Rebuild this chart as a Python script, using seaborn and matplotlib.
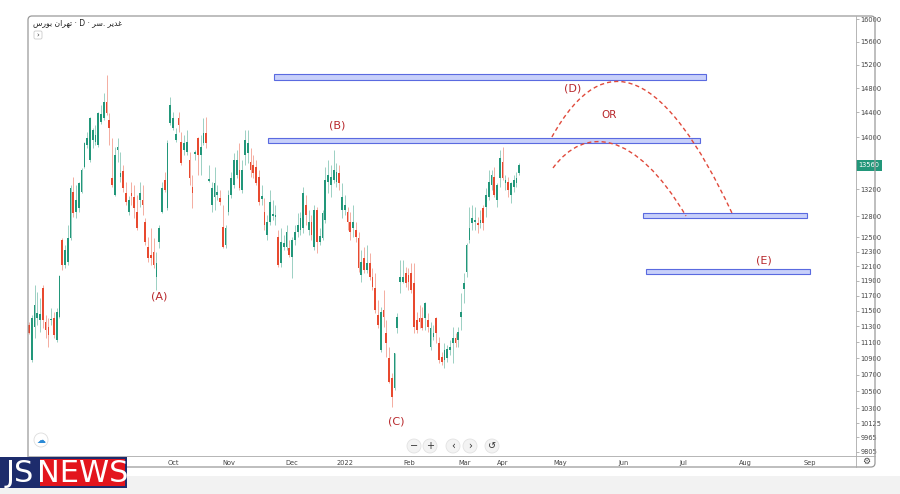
import numpy as np
import matplotlib
matplotlib.use("Agg")
import matplotlib.pyplot as plt
import matplotlib.transforms as mtransforms
import seaborn as sns
from matplotlib.patches import Rectangle, FancyBboxPatch, Circle, PathPatch
from matplotlib.path import Path
from matplotlib.ticker import FixedLocator, FixedFormatter, NullLocator

# daily candles, Tehran exchange
opens = [11320, 10880, 11290, 11410, 11380, 11800, 11360, 11290, 11380, 11410,
         11130, 11420, 12460, 12120, 12160, 12490, 13160, 12870, 12920, 13160,
         13540, 13880, 13650, 13960, 13930, 13880, 14250, 14310, 14570, 14280,
         13370, 13110, 13800, 13380, 13480, 13140, 12870, 13140, 13080, 12870,
         13040, 13040, 12720, 12360, 12250, 12290, 11950, 12430, 12870, 13340,
         12920, 14230, 14150, 13960, 14310, 13930, 13800, 13770, 13650, 13230,
         13740, 13990, 13720, 13910, 14070, 13320, 12970, 13080, 13110, 13070,
         12650, 12390, 12870, 13110, 13260, 13420, 13490, 13190, 13720, 13750,
         13610, 13570, 13540, 13380, 13050, 12870, 12530, 12720, 12800, 12790,
         12500, 12140, 12360, 12360, 12350, 12220, 12460, 12580, 12600, 12630,
         12970, 12600, 12720, 12360, 12890, 12430, 12490, 12750, 13310, 13260,
         13340, 13310, 13450, 12890, 12890, 12870, 12720, 12630, 12600, 12490,
         11980, 12210, 12050, 12140, 11950, 11800, 11450, 11000, 11510, 11220,
         10900, 10660, 10540, 11280, 11880, 11880, 12000, 11980, 12000, 11870,
         11380, 11410, 11410, 11410, 11380, 11040, 11170, 11410, 11090, 10920,
         10880, 10900, 11000, 11090, 11150, 11130, 11420, 11790, 12020, 12460,
         12700, 12720, 12700, 12700, 12920, 12940, 13080, 13260, 13380, 13040,
         13370, 13610, 13290, 13310, 13110, 13230, 13290, 13450]
closes = [11220, 11410, 11580, 11470, 11460, 11380, 11260, 11190, 11385, 11190,
          11490, 11960, 12120, 12320, 12490, 13220, 12850, 13040, 13290, 13490,
          13910, 13990, 14310, 14120, 14040, 14390, 14380, 14570, 14390, 14150,
          13260, 13720, 13850, 13450, 13220, 13010, 13040, 13100, 12920, 12630,
          13140, 12970, 12430, 12210, 12210, 12120, 12140, 12630, 13220, 13190,
          13910, 14520, 14310, 14050, 14200, 13600, 13910, 13930, 13370, 13140,
          13770, 13720, 13850, 14070, 13910, 13350, 13220, 13290, 13160, 13010,
          12360, 12630, 13110, 13370, 13650, 13650, 13220, 13490, 13960, 13910,
          13490, 13450, 13290, 13010, 13100, 12680, 12720, 13010, 12840, 12820,
          12120, 12430, 12420, 12580, 12250, 12460, 12580, 12680, 12780, 13140,
          12820, 12720, 12530, 12890, 12430, 12520, 12850, 13340, 13410, 13380,
          13490, 13460, 13290, 13080, 12970, 12720, 12580, 12720, 12500, 12070,
          12160, 12050, 12140, 11950, 11820, 11510, 11320, 11490, 11420, 11090,
          10610, 10430, 10970, 11420, 11950, 11950, 11870, 11880, 11780, 11290,
          11260, 11360, 11280, 11600, 11290, 11280, 11220, 11220, 10880, 10850,
          11000, 11020, 11040, 11150, 11090, 11230, 11490, 11870, 12390, 12630,
          12780, 12750, 12680, 12750, 12700, 13110, 13310, 13410, 13110, 13260,
          13680, 13370, 13340, 13190, 13290, 13340, 13370, 13560]
highs = [11360, 11450, 11840, 11750, 11670, 11840, 11450, 11410, 11540, 11490,
         11540, 11980, 12490, 12390, 12680, 13260, 13380, 13260, 13310, 13520,
         13930, 14080, 14330, 14150, 14200, 14410, 14520, 14720, 15020, 14390,
         13990, 13850, 13990, 13770, 13570, 13310, 13100, 13310, 13260, 13110,
         13310, 13260, 12780, 12500, 12630, 12490, 12290, 12680, 13310, 13460,
         13960, 14650, 14410, 14150, 14410, 14080, 14040, 14120, 13770, 13420,
         13800, 14000, 14040, 14310, 14330, 13570, 13310, 13540, 13260, 13190,
         12970, 12680, 13190, 13460, 13750, 13800, 13910, 13650, 14120, 14120,
         13830, 13720, 13650, 13490, 13260, 13070, 12820, 13190, 13040, 12970,
         12600, 12630, 12530, 12680, 12460, 12500, 12680, 12850, 12870, 13230,
         13110, 12890, 12820, 12970, 12940, 12630, 12890, 13540, 13650, 13570,
         13800, 13600, 13570, 13290, 13110, 12940, 12870, 12970, 12720, 12580,
         12320, 12360, 12390, 12280, 12070, 12010, 11640, 11550, 11780, 11380,
         11040, 10720, 10970, 11470, 12180, 12180, 12090, 12070, 12140, 12140,
         11490, 11580, 11550, 11620, 11470, 11360, 11320, 11420, 11170, 10980,
         11090, 11070, 11130, 11290, 11220, 11290, 11740, 12000, 12420, 12940,
         12970, 12940, 12790, 12890, 12970, 13220, 13490, 13490, 13540, 13290,
         13800, 13850, 13420, 13380, 13310, 13420, 13460, 13600]
lows = [11200, 10850, 11150, 11320, 11230, 11280, 11150, 11040, 11320, 11150,
        11100, 11410, 12050, 12070, 12120, 12460, 12790, 12780, 12870, 13140,
        13520, 13830, 13610, 13830, 13880, 13850, 14210, 14280, 14360, 13880,
        13230, 13100, 13610, 13310, 13160, 12970, 12820, 12970, 12780, 12600,
        12940, 12820, 12390, 12160, 12120, 12070, 11780, 12350, 12850, 13160,
        12890, 14200, 14120, 13930, 14080, 13570, 13720, 13720, 13260, 12920,
        13650, 13420, 13420, 13880, 13830, 13310, 12870, 12890, 13040, 12970,
        12350, 12350, 12820, 13070, 13220, 13370, 13190, 13140, 13570, 13600,
        13380, 13370, 13260, 12970, 12970, 12600, 12460, 12680, 12750, 12680,
        12090, 12090, 12320, 12320, 12220, 11940, 12390, 12500, 12530, 12560,
        12680, 12530, 12460, 12320, 12280, 12390, 12460, 12700, 13140, 13080,
        13290, 13230, 13190, 12780, 12820, 12600, 12460, 12500, 12430, 12020,
        11880, 12010, 12010, 11910, 11780, 11470, 11280, 10980, 11290, 10920,
        10600, 10310, 10520, 11220, 11740, 11870, 11820, 11780, 11740, 11220,
        11220, 11280, 11250, 11250, 11230, 11000, 11130, 11090, 10840, 10820,
        10780, 10850, 10940, 10840, 11040, 11040, 11250, 11600, 11950, 12420,
        12600, 12600, 12560, 12630, 12600, 12790, 13040, 13190, 13080, 12940,
        13230, 13340, 13190, 13080, 13000, 13160, 13230, 13420]

# time axis: bar index where each month tick sits (first two are hidden by the badge)
month_labels = ["", "", "Oct", "Nov", "Dec", "2022", "Feb", "Mar",
                "Apr", "May", "Jun", "Jul", "Aug", "Sep"]
month_bars = [12.3, 31.8, 52.0, 72.2, 94.9, 114.1, 137.2, 157.4,
              171.1, 191.7, 214.8, 236.1, 258.5, 281.9]
price_ticks = [16000, 15600, 15200, 14800, 14400, 14000, 13200, 12800, 12500,
               12300, 12100, 11900, 11700, 11500, 11300, 11100, 10900, 10700,
               10500, 10300, 10125, 9965, 9805]

# drawn zones: (first bar, last bar, low price, high price)
zones = [(88.4, 244.4, 14939, 15040),
         (86.3, 242.2, 13909, 13989),
         (221.7, 280.9, 12777, 12850),
         (222.7, 282.0, 11985, 12060)]
wave_labels = ["(A)", "(B)", "(C)", "(D)", "OR", "(E)"]
wave_bars = [46.9, 111.2, 132.5, 196.4, 209.4, 265.3]
wave_prices = [11684, 14180, 10147, 14787, 14358, 12170]

GREEN = "#22977a"
RED = "#e8492f"
NARROW = ["Liberation Sans Narrow", "DejaVu Sans"]

sns.set_theme(style="white")
plt.rcParams["font.family"] = ["DejaVu Sans"]

fig = plt.figure(figsize=(9, 4.94), dpi=100)
fig.patch.set_facecolor("white")
ax = fig.add_axes([28 / 900, 1 - 456 / 494, 828 / 900, 440 / 494])

o = np.array(opens, float)
c = np.array(closes, float)
x = np.arange(len(c))
cols = np.where(c >= o, GREEN, RED)

ax.vlines(x, lows, highs, colors=cols, lw=0.7, alpha=0.45, zorder=2)
ax.bar(x, np.maximum(np.abs(c - o), 14), bottom=np.minimum(o, c), width=0.62,
       color=cols, linewidth=0, zorder=3)

ax.set_yscale("log")
ax.set_ylim(9758, 16061)
ax.set_xlim(-0.36, 298.6)
ax.yaxis.set_major_locator(FixedLocator(price_ticks))
ax.yaxis.set_major_formatter(FixedFormatter([str(v) for v in price_ticks]))
ax.yaxis.set_minor_locator(NullLocator())
ax.yaxis.tick_right()
ax.set_xticks(month_bars)
ax.set_xticklabels(month_labels)
ax.tick_params(axis="y", length=2, width=0.5, color="#999999", labelsize=4.8,
               labelcolor="#444444", pad=1.2)
ax.tick_params(axis="x", length=2, width=0.5, color="#999999", labelsize=4.8,
               labelcolor="#444444", pad=1.2)
for t in ax.get_yticklabels() + ax.get_xticklabels():
    t.set_family(NARROW)
for s in ax.spines.values():
    s.set_visible(False)

# zones drawn by the author
for b0, b1, p0, p1 in zones:
    ax.add_patch(Rectangle((b0, p0), b1 - b0, p1 - p0, fc="#c8d0fa",
                           ec="#5a6ae0", lw=0.8, zorder=4))

# two projected paths (dashed arcs)
arcs = [[(188.8, 14005), (207.9, 15596), (229.6, 15109), (253.8, 12850)],
        [(189.2, 13522), (200.7, 14196), (218.8, 14116), (237.2, 12806)]]
for pts in arcs:
    p = Path(pts, [Path.MOVETO, Path.CURVE4, Path.CURVE4, Path.CURVE4])
    ax.add_patch(PathPatch(p, fc="none", ec="#e04a3c", lw=1.0,
                           ls=(0, (3, 2.2)), zorder=5))

for lab, b, pr in zip(wave_labels, wave_bars, wave_prices):
    ax.text(b, pr, lab, color="#b8282c", fontsize=8 if lab != "OR" else 7.5,
            ha="center", va="center", zorder=6)

# last price tag on the price scale
trans = mtransforms.blended_transform_factory(ax.transAxes, ax.transData)
ax.text(1.003, c[-1], f"{int(c[-1])}", transform=trans, ha="left", va="center",
        fontsize=4.8, color="white", family=NARROW, clip_on=False, zorder=7,
        bbox=dict(boxstyle="square,pad=0.35", fc=GREEN, ec="none"))

# overlay in pixel coordinates for the chart frame and widgets
ov = fig.add_axes([0, 0, 1, 1], zorder=5)
ov.set_xlim(0, 900)
ov.set_ylim(494, 0)
ov.axis("off")
ov.patch.set_alpha(0)

ov.add_patch(Rectangle((0, 476), 900, 18, fc="#f2f2f2", ec="none", zorder=0))
ov.add_patch(FancyBboxPatch((28, 16), 847, 451,
                            boxstyle="round,pad=0,rounding_size=4",
                            fc="none", ec="#999999", lw=0.9))
ov.plot([856, 856], [16, 467], color="#aaaaaa", lw=0.6)
ov.plot([28, 875], [456, 456], color="#aaaaaa", lw=0.6)

# symbol line, Persian words shaped with presentation forms, laid out as on screen
title = ("\uFEB1\uFEAD\uFEEE\uFE91 \uFEE5\uFE8D\uFEAE\uFEEC\uFE97 \u00B7 D \u00B7 "
         "\uFEAE\uFEB3. \uFEAE\uFBFE\uFEAA\uFECF")
ov.text(33, 22.5, title, fontsize=5.5, color="#222222", ha="left", va="center")
ov.add_patch(FancyBboxPatch((34, 31), 8, 8, boxstyle="round,pad=0,rounding_size=1.5",
                            fc="white", ec="#cccccc", lw=0.6))
ov.text(38, 35, "\u203A", fontsize=5, color="#333333", ha="center", va="center")

# logo circle bottom-left and navigation buttons
ov.add_patch(Circle((41, 440), 7, fc="white", ec="#dddddd", lw=0.6))
ov.text(41, 440.5, "\u2601", fontsize=6.5, color="#2b8ad6", ha="center", va="center")
for bx, g in zip([414, 430, 453, 470, 492], ["\u2212", "+", "\u2039", "\u203A", "\u21BA"]):
    ov.add_patch(Circle((bx, 446), 7, fc="#f3f3f3", ec="#e2e2e2", lw=0.6))
    ov.text(bx, 446, g, fontsize=7, color="#333333", ha="center", va="center")
ov.text(866, 461.5, "\u2699", fontsize=6.5, color="#444444", ha="center", va="center")

# JS NEWS badge
ov.add_patch(Rectangle((0, 457), 39, 31, fc="#1d2c6c", ec="none", zorder=6))
ov.add_patch(Rectangle((38, 457), 89, 31, fc="#1d2c6c", ec="none", zorder=6))
ov.add_patch(Rectangle((40, 459), 85, 27, fc="#e3151d", ec="none", zorder=6))
ov.text(19.5, 473, "JS", fontsize=22, color="white", ha="center", va="center",
        family=NARROW, zorder=7)
ov.text(82.5, 473, "NEWS", fontsize=22, color="white", ha="center", va="center",
        family=NARROW, zorder=7)

fig.savefig("out.png", dpi=100, facecolor="white")
